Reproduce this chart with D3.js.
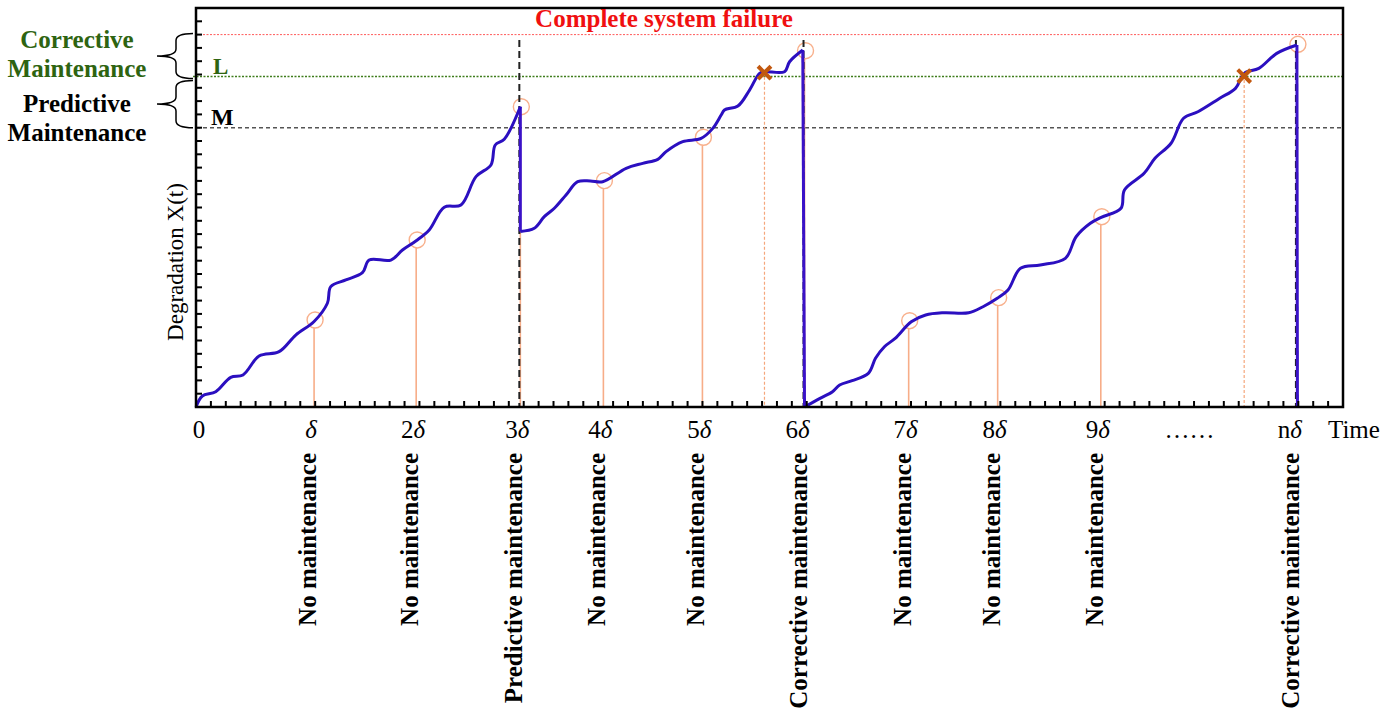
<!DOCTYPE html>
<html>
<head>
<meta charset="utf-8">
<script src="https://cdn.jsdelivr.net/npm/d3@7"></script>
<style>
  body { margin: 0; background: #fff; }
  text { font-family: "Liberation Serif", "Times New Roman", serif; }
</style>
</head>
<body>
<div id="chart"></div>
<script>
// degradation path, one array per renewal cycle: [time (in delta units), X(t)]
var cycle1 = [[0,0],[0.062,0.83],[0.193,1.15],[0.339,2.23],[0.459,2.41],[0.616,3.83],[0.811,4.16],[0.974,5.41],
  [1.153,6.43],[1.283,7.8],[1.316,9.05],[1.463,9.55],[1.625,10.1],[1.691,11.05],[1.903,11.05],[2.016,11.8],
  [2.15,12.5],[2.277,13.31],[2.424,15.02],[2.587,15.19],[2.734,17.32],[2.88,18.2],[2.922,19.7],[3.01,20.13],[3.167,22.58]]
var cycle2 = [[3.167,13.2],[3.303,13.44],[3.401,14.31],[3.499,14.94],[3.613,15.94],[3.727,16.94],[3.85,17.0],
  [3.971,16.94],[4.2,17.95],[4.362,18.32],[4.509,18.62],[4.59,19.2],[4.753,19.95],[4.932,20.2],[5.046,20.95],
  [5.128,21.95],[5.16,22.33],[5.291,22.63],[5.405,23.83],[5.503,25.09],[5.552,25.21],[5.747,25.21],[5.796,25.96],[5.925,26.84]]
var cycle3 = [[5.942,0],[6.093,0.65],[6.215,1.15],[6.285,1.65],[6.407,1.98],[6.565,2.53],[6.635,3.66],[6.722,4.53],
  [6.827,5.16],[6.984,6.41],[7.125,6.92],[7.3,7.09],[7.545,7.09],[7.685,7.54],[7.824,8.17],[7.929,8.8],[8.051,10.43],
  [8.244,10.68],[8.489,11.18],[8.594,12.8],[8.733,13.81],[8.839,14.26],[9.032,14.94],[9.066,16.32],[9.258,17.57],
  [9.364,18.7],[9.521,19.83],[9.643,21.71],[9.783,22.2],[9.993,23.2],[10.15,23.96],[10.237,25.09],[10.378,25.46],
  [10.553,26.59],[10.75,27.22]]

// inspections
var inspectTimes = [1.153, 2.15, 3.167, 3.978, 4.945, 5.942, 6.959, 7.828, 8.835, 10.75]
var inspectLevels = [6.54, 12.56, 22.58, 17.02, 20.28, 26.79, 6.49, 8.22, 14.31, 27.27]
var tickLabels = ["δ", "2δ", "3δ", "4δ", "5δ", "6δ", "7δ", "8δ", "9δ", "nδ"]
var actions = ["No maintenance", "No maintenance", "Predictive maintenance", "No maintenance", "No maintenance",
  "Corrective maintenance", "No maintenance", "No maintenance", "No maintenance", "Corrective maintenance"]

// threshold crossings (failure marks)
var failTimes = [5.551, 10.235]
var failLevels = [25.21, 24.96]

var failureLevel = 28.0
var levelL = 24.85
var levelM = 21.0

var width = 1397, height = 710
var svg = d3.select("#chart").append("svg").attr("width", width).attr("height", height)

var x = d3.scaleLinear().domain([0, 11.2]).range([196, 1343])
var y = d3.scaleLinear().domain([0, 30]).range([407, 8])

var serif = "Liberation Serif, Times New Roman, serif"

// threshold lines
svg.append("line")
  .attr("x1", x(0)).attr("x2", x(11.2)).attr("y1", y(failureLevel)).attr("y2", y(failureLevel))
  .attr("stroke", "#ff5a5a").attr("stroke-width", 1).attr("stroke-dasharray", "2,1.5")
svg.append("line")
  .attr("x1", x(0) - 3).attr("x2", x(11.2)).attr("y1", y(levelL)).attr("y2", y(levelL))
  .attr("stroke", "#3f7d1c").attr("stroke-width", 1.3).attr("stroke-dasharray", "2,1.5")
svg.append("line")
  .attr("x1", x(0)).attr("x2", x(11.2)).attr("y1", y(levelM)).attr("y2", y(levelM))
  .attr("stroke", "#555").attr("stroke-width", 1.5).attr("stroke-dasharray", "4,3")

// inspection stems and circles
var insp = inspectTimes.map(function (t, i) { return { t: t, v: inspectLevels[i], label: tickLabels[i], action: actions[i] } })

svg.append("g").selectAll("line")
  .data(insp)
  .enter().append("line")
    .attr("x1", function (d) { return x(d.t) })
    .attr("x2", function (d) { return x(d.t) })
    .attr("y1", function (d) { return y(d.v) + 8 })
    .attr("y2", y(0))
    .attr("stroke", "#f7ad88").attr("stroke-width", 1.6)

svg.append("g").selectAll("circle")
  .data(insp)
  .enter().append("circle")
    .attr("cx", function (d) { return x(d.t) + 1 })
    .attr("cy", function (d) { return y(d.v) })
    .attr("r", 8)
    .attr("fill", "none")
    .attr("stroke", "#f8b08c").attr("stroke-width", 1.4)

// dashed stems under failure crosses
var fails = failTimes.map(function (t, i) { return { t: t, v: failLevels[i] } })
svg.append("g").selectAll("line")
  .data(fails)
  .enter().append("line")
    .attr("x1", function (d) { return x(d.t) })
    .attr("x2", function (d) { return x(d.t) })
    .attr("y1", function (d) { return y(d.v) })
    .attr("y2", y(0))
    .attr("stroke", "#f5a77c").attr("stroke-width", 1.2).attr("stroke-dasharray", "3,2")

// black dashed lines at maintenance actions
var maint = insp.filter(function (d) { return d.action !== "No maintenance" })
svg.append("g").selectAll("line")
  .data(maint)
  .enter().append("line")
    .attr("x1", function (d) { return x(d.t) - 1 })
    .attr("x2", function (d) { return x(d.t) - 1 })
    .attr("y1", y(27.6))
    .attr("y2", y(0))
    .attr("stroke", "#222").attr("stroke-width", 2).attr("stroke-dasharray", "7,4")

// degradation curve
var curveLine = d3.line()
  .x(function (d) { return x(d[0]) })
  .y(function (d) { return y(d[1]) })
  .curve(d3.curveCatmullRom.alpha(0.5))
var straight = d3.line()
  .x(function (d) { return x(d[0]) })
  .y(function (d) { return y(d[1]) })

var cycles = [cycle1, cycle2, cycle3]
var drops = [
  [cycle1[cycle1.length - 1], cycle2[0]],
  [cycle2[cycle2.length - 1], cycle3[0]],
  [cycle3[cycle3.length - 1], [cycle3[cycle3.length - 1][0] + 0.005, 0]]
]
svg.append("g").selectAll("path")
  .data(drops)
  .enter().append("path")
    .attr("d", straight)
    .attr("fill", "none").attr("stroke", "#3a12c8").attr("stroke-width", 3)
svg.append("g").selectAll("path")
  .data(cycles)
  .enter().append("path")
    .attr("d", curveLine)
    .attr("fill", "none").attr("stroke", "#2b0fc0").attr("stroke-width", 3).attr("stroke-linejoin", "round")

// failure crosses
svg.append("g").selectAll("path")
  .data(fails)
  .enter().append("path")
    .attr("d", d3.symbol().type(d3.symbolX).size(110))
    .attr("transform", function (d) { return "translate(" + x(d.t) + "," + (y(d.v) + 1) + ")" })
    .attr("fill", "none").attr("stroke", "#c2580f").attr("stroke-width", 4)

// frame and ticks
svg.append("rect")
  .attr("x", x(0)).attr("y", y(30))
  .attr("width", x(11.2) - x(0)).attr("height", y(0) - y(30))
  .attr("fill", "none").attr("stroke", "#000").attr("stroke-width", 2.5)

var xTicks = d3.range(1, 77).map(function (i) { return i * 11.2 / 77 })
svg.append("g").selectAll("line")
  .data(xTicks)
  .enter().append("line")
    .attr("x1", function (d) { return x(d) }).attr("x2", function (d) { return x(d) })
    .attr("y1", y(0)).attr("y2", y(0) - 6)
    .attr("stroke", "#000").attr("stroke-width", 2)

var yTicks = d3.range(1, 30)
svg.append("g").selectAll("line")
  .data(yTicks)
  .enter().append("line")
    .attr("x1", x(0)).attr("x2", x(0) + 6)
    .attr("y1", function (d) { return y(d) }).attr("y2", function (d) { return y(d) })
    .attr("stroke", "#000").attr("stroke-width", 2)

// x tick labels
var tickText = svg.append("g").attr("font-family", serif).attr("font-size", 25).attr("text-anchor", "middle")
tickText.append("text").attr("x", x(0) + 3).attr("y", 438).text("0")
tickText.selectAll("text.tl")
  .data(insp)
  .enter().append("text")
    .attr("class", "tl")
    .attr("x", function (d, i) { return x(d.t) - (i === 5 || i === 9 ? 7 : 3) })
    .attr("y", 438)
    .each(function (d) {
      var el = d3.select(this)
      var pre = d.label.slice(0, -1)
      if (pre) el.append("tspan").text(pre)
      el.append("tspan").attr("font-style", "italic").text("δ")
    })
tickText.append("text").attr("x", x(9.7)).attr("y", 438).text("……")
tickText.append("text").attr("x", x(11.2) - 15).attr("y", 438).attr("text-anchor", "start").text("Time")

// action labels
svg.append("g").selectAll("text")
  .data(insp)
  .enter().append("text")
    .attr("transform", function (d) { return "translate(" + (x(d.t) + 2) + ",453) rotate(-90)" })
    .attr("text-anchor", "end")
    .attr("font-family", serif).attr("font-size", 25).attr("font-weight", "bold")
    .text(function (d) { return d.action })

// y axis title
svg.append("text")
  .attr("transform", "translate(183," + 262 + ") rotate(-90)")
  .attr("text-anchor", "middle")
  .attr("font-family", serif).attr("font-size", 23)
  .text("Degradation X(t)")

// threshold labels
svg.append("text")
  .attr("x", 664).attr("y", 27)
  .attr("text-anchor", "middle")
  .attr("font-family", serif).attr("font-size", 25).attr("font-weight", "bold")
  .attr("fill", "#f01010")
  .text("Complete system failure")
svg.append("text")
  .attr("x", x(0) + 17).attr("y", y(levelL) - 2)
  .attr("font-family", serif).attr("font-size", 23).attr("font-weight", "bold")
  .attr("fill", "#2e6411").text("L")
svg.append("text")
  .attr("x", x(0) + 15).attr("y", y(levelM) - 3)
  .attr("font-family", serif).attr("font-size", 24).attr("font-weight", "bold")
  .attr("fill", "#000").text("M")

// braces on the left
function brace(y0, y1) {
  var x0 = x(0) - 3, xb = x0 - 17, xt = x0 - 36, ym = (y0 + y1) / 2, r = 7
  return "M" + x0 + "," + y0 + " Q" + xb + "," + y0 + " " + xb + "," + (y0 + r) +
    " L" + xb + "," + (ym - r) + " Q" + xb + "," + ym + " " + xt + "," + ym +
    " Q" + xb + "," + ym + " " + xb + "," + (ym + r) +
    " L" + xb + "," + (y1 - r) + " Q" + xb + "," + y1 + " " + x0 + "," + y1
}
svg.append("path").attr("d", brace(y(failureLevel) - 1, y(levelL) + 2))
  .attr("fill", "none").attr("stroke", "#000").attr("stroke-width", 1.5)
svg.append("path").attr("d", brace(y(levelL) + 4, y(levelM)))
  .attr("fill", "none").attr("stroke", "#000").attr("stroke-width", 1.5)

var leftLabels = svg.append("g")
  .attr("font-family", serif).attr("font-size", 25).attr("font-weight", "bold").attr("text-anchor", "middle")
leftLabels.append("text").attr("x", 77).attr("y", 48).attr("fill", "#2e6411").text("Corrective")
leftLabels.append("text").attr("x", 77).attr("y", 77).attr("fill", "#2e6411").text("Maintenance")
leftLabels.append("text").attr("x", 77).attr("y", 112).attr("fill", "#000").text("Predictive")
leftLabels.append("text").attr("x", 77).attr("y", 141).attr("fill", "#000").text("Maintenance")
</script>
</body>
</html>
